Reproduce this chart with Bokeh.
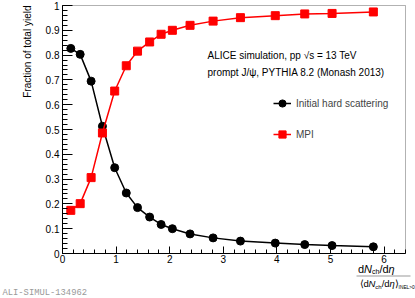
from bokeh.plotting import figure
from bokeh.models import (Range1d, FixedTicker, CustomJSTickFormatter, Label, Legend,
                          LegendItem, BoxAnnotation)
from bokeh.embed import file_html
from bokeh.resources import INLINE
import math

# ---- data ----
mult = [0.155, 0.33, 0.534, 0.745, 0.974, 1.19, 1.40, 1.626, 1.84, 2.05, 2.38, 2.81,
        3.32, 3.97, 4.52, 5.03, 5.80]
hard = [0.827, 0.803, 0.695, 0.513, 0.346, 0.244, 0.185, 0.147, 0.117, 0.100, 0.079,
        0.063, 0.050, 0.042, 0.036, 0.032, 0.027]
mpi = [0.174, 0.201, 0.306, 0.486, 0.655, 0.757, 0.816, 0.853, 0.884, 0.900, 0.920,
       0.937, 0.951, 0.959, 0.966, 0.968, 0.974]
x_ticks = [0, 1, 2, 3, 4, 5, 6]
y_ticks = [0, 0.1, 0.2, 0.3, 0.4, 0.5, 0.6, 0.7, 0.8, 0.9, 1.0]
x_minor = [round(i * 0.2, 2) for i in range(0, 33)]
y_minor = [round(i * 0.02, 2) for i in range(0, 51)]
X_LO, X_HI = 0.0, 6.4
Y_LO, Y_HI = 0.0, 1.0

FONT = "Liberation Sans"
W, H = 415, 298
# plot box in canvas pixels
BL, BR, BT, BB = 62, 405, 5, 253
ux = (BR - BL) / (X_HI - X_LO)
uy = (BB - BT) / (Y_HI - Y_LO)
x_start = X_LO - BL / ux
x_end = X_HI + (W - BR) / ux
y_start = Y_LO - (H - BB) / uy
y_end = Y_HI + BT / uy


def X(px):
    return x_start + px / ux


def Y(py):
    return y_end - py / uy


p = figure(width=W, height=H, output_backend="svg", toolbar_location=None,
           x_range=Range1d(x_start, x_end), y_range=Range1d(y_start, y_end),
           min_border=0, min_border_left=0, min_border_right=0, min_border_top=0,
           min_border_bottom=0)
p.background_fill_color = "white"
p.border_fill_color = "white"
p.outline_line_color = None
p.xgrid.grid_line_color = None
p.ygrid.grid_line_color = None

fmt = CustomJSTickFormatter(code="return Number(tick.toFixed(1)).toString();")

p.xaxis.ticker = FixedTicker(ticks=x_ticks, minor_ticks=x_minor)
p.yaxis.ticker = FixedTicker(ticks=y_ticks, minor_ticks=y_minor)
p.xaxis.fixed_location = Y_LO
p.yaxis.fixed_location = X_LO
p.xaxis.bounds = (X_LO, X_HI)
p.yaxis.bounds = (Y_LO, Y_HI)
for ax in (p.xaxis, p.yaxis):
    ax.formatter = fmt
    ax.axis_line_color = "black"
    ax.major_tick_line_color = "black"
    ax.minor_tick_line_color = "black"
    ax.major_tick_out = 0
    ax.minor_tick_out = 0
    ax.major_label_text_font = FONT
    ax.major_label_text_font_size = "10px"
    ax.major_label_text_color = "black"
p.xaxis.major_tick_in = 7
p.xaxis.minor_tick_in = 4
p.yaxis.major_tick_in = 10
p.yaxis.minor_tick_in = 5
p.xaxis.major_label_standoff = 1
p.yaxis.major_label_standoff = 3

# plot box outline
p.add_layout(BoxAnnotation(left=X_LO, right=X_HI, bottom=Y_LO, top=Y_HI,
                           fill_alpha=0, line_color="black", line_width=1,
                           level="underlay"))

r1l = p.line(mult, hard, line_color="black", line_width=1.5)
r1s = p.scatter(mult, hard, marker="circle", size=8, fill_color="black",
                line_color="black")
r2l = p.line(mult, mpi, line_color="red", line_width=1.5)
r2s = p.scatter(mult, mpi, marker="square", size=8, fill_color="red",
                line_color="red")

legend = Legend(items=[LegendItem(label="Initial hard scattering", renderers=[r1l, r1s]),
                       LegendItem(label="MPI", renderers=[r2l, r2s])],
                location=(273, 154), padding=0, margin=0, spacing=11,
                glyph_width=18, glyph_height=20, label_height=20, label_standoff=5,
                border_line_color=None, background_fill_alpha=0,
                label_text_font=FONT, label_text_font_size="10px")
p.add_layout(legend)


def txt(px, py, text, size="10px", style="normal", align="left", angle=0.0,
        font=FONT, color="black"):
    p.add_layout(Label(x=X(px), y=Y(py), text=text, angle=angle, text_align=align,
                       text_baseline="middle", text_font=font, text_font_size=size,
                       text_font_style=style, text_color=color))


# header texts
txt(207, 55, "ALICE simulation, pp   \u221As = 13 TeV")
txt(207, 72, "prompt J/\u03c8, PYTHIA 8.2 (Monash 2013)")

# y-axis title
txt(26.5, 5, "Fraction of total yield", align="right", angle=math.pi / 2)

# x-axis title as a fraction
WID = {"d": .556, "N": .722, "c": .5, "h": .556, "/": .278, "\u03b7": .556,
       "\u27e8": .39, "\u27e9": .39, "I": .278, "E": .667, "L": .556, ">": .584,
       "0": .556}


def run(px, py, parts):
    x = px
    for text, size, dy, style in parts:
        txt(x, py + dy, text, size="%gpx" % size, style=style)
        x += sum(WID.get(ch, .55) for ch in text) * size


run(357.5, 268, [("d", 11, 0, "normal"), ("N", 11, 0, "italic"),
                 ("ch", 7, 3, "normal"), ("/d", 11, 0, "normal"),
                 ("\u03b7", 11, 0, "italic")])
p.add_layout(BoxAnnotation(left=X(356), right=X(410), top=Y(275), bottom=Y(276),
                           fill_color="#9a9a9a", fill_alpha=1, line_alpha=0))
run(359, 283, [("\u27e8d", 9.5, 0, "normal"), ("N", 9.5, 0, "italic"),
               ("ch", 6, 3, "normal"), ("/d", 9.5, 0, "normal"),
               ("\u03b7", 9.5, 0, "italic"), ("\u27e9", 9.5, 0, "normal"),
               ("INEL>0", 4.8, 4, "normal")])

# watermark
txt(2, 292, "ALI-SIMUL-134962", size="8.8px", font="Liberation Mono", color="#999999")

open("out.html", "w").write(file_html(p, INLINE))
